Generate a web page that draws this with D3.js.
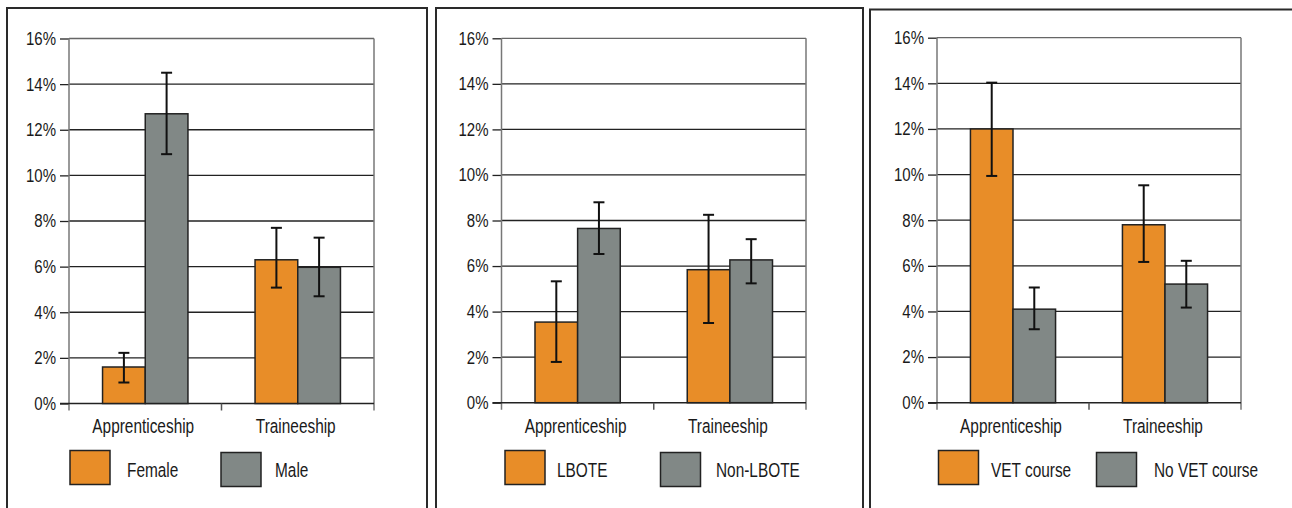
<!DOCTYPE html>
<html>
<head>
<meta charset="utf-8">
<script src="https://cdn.jsdelivr.net/npm/d3@7/dist/d3.min.js"></script>
<style>
  html, body { margin: 0; padding: 0; background: #fff; }
  svg { display: block; }
  text { font-family: "Liberation Sans", Arial, sans-serif; fill: #1a1a1a; }
</style>
</head>
<body>
<svg id="chart" width="1292" height="508"></svg>
<script>
// ---- data ----
const categories = ["Apprenticeship", "Traineeship"];
const yTicks = [0, 2, 4, 6, 8, 10, 12, 14, 16];

const genderSeries = ["Female", "Male"];
const femaleValues = [1.6, 6.3];
const femaleLow    = [0.92, 5.08];
const femaleHigh   = [2.22, 7.7];
const maleValues   = [12.7, 5.97];
const maleLow      = [10.93, 4.7];
const maleHigh     = [14.5, 7.27];

const languageSeries = ["LBOTE", "Non-LBOTE"];
const lboteValues     = [3.54, 5.84];
const lboteLow        = [1.79, 3.5];
const lboteHigh       = [5.33, 8.25];
const nonLboteValues  = [7.65, 6.27];
const nonLboteLow     = [6.53, 5.24];
const nonLboteHigh    = [8.8, 7.18];

const vetSeries = ["VET course", "No VET course"];
const vetValues     = [12.0, 7.8];
const vetLow        = [9.94, 6.17];
const vetHigh       = [14.03, 9.53];
const noVetValues   = [4.1, 5.2];
const noVetLow      = [3.22, 4.17];
const noVetHigh     = [5.05, 6.22];

const seriesColors = ["#E88D28", "#818886"];

// ---- layout ----
const SX_TICK = 0.81;  // horizontal condensing (narrow face look)
const SX_LAB = 0.79;
const panels = [
  { series: genderSeries,
    values: [femaleValues, maleValues], low: [femaleLow, maleLow], high: [femaleHigh, maleHigh],
    frame: { x0: 7, x1: 427, y0: 8 },
    plot: { left: 69, right: 374, top: 38.5, bottom: 403.5 },
    legend: [{ bx: 70, by: 450.5, tx: 127 }, { bx: 221, by: 452.5, tx: 275 }] },
  { series: languageSeries,
    values: [lboteValues, nonLboteValues], low: [lboteLow, nonLboteLow], high: [lboteHigh, nonLboteHigh],
    frame: { x0: 436, x1: 863, y0: 8 },
    plot: { left: 501.5, right: 806, top: 38.3, bottom: 402.7 },
    legend: [{ bx: 505, by: 450.5, tx: 557 }, { bx: 660.5, by: 452.5, tx: 716 }] },
  { series: vetSeries,
    values: [vetValues, noVetValues], low: [vetLow, noVetLow], high: [vetHigh, noVetHigh],
    frame: { x0: 870, x1: 1300, y0: 9.5 },
    plot: { left: 937, right: 1241, top: 37.7, bottom: 402.7 },
    legend: [{ bx: 938.5, by: 450.5, tx: 991 }, { bx: 1096.5, by: 452.5, tx: 1154 }] }
];

const svg = d3.select("#chart");

panels.forEach(p => {
  const g = svg.append("g");
  const P = p.plot;

  // frame (no bottom edge visible)
  g.append("path")
    .attr("d", `M${p.frame.x0},520 V${p.frame.y0} H${p.frame.x1} V520`)
    .attr("fill", "none").attr("stroke", "#2a2a2a").attr("stroke-width", 2);

  const y = d3.scaleLinear().domain([0, 16]).range([P.bottom, P.top]);
  const x0 = d3.scaleBand().domain(categories).range([P.left, P.right]).padding(0);
  const bw = x0.bandwidth();
  const x1 = d3.scaleBand().domain(p.series).range([bw * 0.22, bw * 0.78]).padding(0);

  // y ticks
  const yAxis = d3.axisLeft(y).tickValues(yTicks).tickSize(9).tickPadding(4)
    .tickFormat(d => d + "%");
  const ya = g.append("g").attr("transform", `translate(${P.left},0)`).call(yAxis);
  ya.select(".domain").remove();
  ya.selectAll(".tick line").attr("stroke", "#222").attr("stroke-width", 1.3);
  ya.selectAll(".tick text").attr("font-size", 18.5).attr("fill", "#1a1a1a")
    .attr("x", -13 / SX_TICK).attr("transform", `scale(${SX_TICK},1)`)
    .style("font-family", '"Liberation Sans", Arial, sans-serif');

  // gridlines
  g.append("g").selectAll("line").data(yTicks.filter(t => t > 0)).join("line")
    .attr("x1", P.left).attr("x2", P.right)
    .attr("y1", d => y(d)).attr("y2", d => y(d))
    .attr("stroke", d => d === 16 ? "#666" : "#222").attr("stroke-width", 1.3);

  // plot border verticals
  g.append("line").attr("x1", P.left).attr("x2", P.left).attr("y1", P.top).attr("y2", P.bottom + 7)
    .attr("stroke", "#777").attr("stroke-width", 1.5);
  g.append("line").attr("x1", P.right).attr("x2", P.right).attr("y1", P.top).attr("y2", P.bottom + 7)
    .attr("stroke", "#777").attr("stroke-width", 1.5);

  // x axis
  const xa = g.append("g").attr("transform", `translate(0,${P.bottom})`)
    .call(d3.axisBottom(x0).tickSize(0).tickPadding(0));
  xa.select(".domain").remove();
  xa.selectAll(".tick text").attr("font-size", 19.5).attr("dy", 0).attr("y", 30)
    .attr("x", -2 / SX_LAB).attr("transform", `scale(${SX_LAB},1)`).attr("fill", "#1a1a1a")
    .style("font-family", '"Liberation Sans", Arial, sans-serif');
  g.append("line").attr("x1", P.left - 9).attr("x2", P.right).attr("y1", P.bottom).attr("y2", P.bottom)
    .attr("stroke", "#222").attr("stroke-width", 1.5);
  g.append("g").selectAll("line").data(categories.slice(1)).join("line")
    .attr("x1", d => x0(d)).attr("x2", d => x0(d))
    .attr("y1", P.bottom).attr("y2", P.bottom + 7)
    .attr("stroke", "#555").attr("stroke-width", 1.5);

  // bars
  p.series.forEach((s, si) => {
    g.append("g").selectAll("rect").data(categories).join("rect")
      .attr("x", c => x0(c) + x1(s))
      .attr("width", x1.bandwidth())
      .attr("y", (c, i) => y(p.values[si][i]))
      .attr("height", (c, i) => y(0) - y(p.values[si][i]))
      .attr("fill", seriesColors[si]).attr("stroke", "#222").attr("stroke-width", 1.5);
  });

  // error bars
  p.series.forEach((s, si) => {
    const eb = g.append("g").attr("stroke", "#111").attr("stroke-width", 2).attr("fill", "none");
    categories.forEach((c, i) => {
      const cx = x0(c) + x1(s) + x1.bandwidth() / 2;
      const lo = y(p.low[si][i]), hi = y(p.high[si][i]);
      eb.append("line").attr("x1", cx).attr("x2", cx).attr("y1", hi).attr("y2", lo);
      eb.append("line").attr("x1", cx - 5.5).attr("x2", cx + 5.5).attr("y1", hi).attr("y2", hi);
      eb.append("line").attr("x1", cx - 5.5).attr("x2", cx + 5.5).attr("y1", lo).attr("y2", lo);
    });
  });

  // legend
  p.series.forEach((s, si) => {
    const L = p.legend[si];
    g.append("rect").attr("x", L.bx).attr("y", L.by).attr("width", 40).attr("height", 34)
      .attr("fill", seriesColors[si]).attr("stroke", "#222").attr("stroke-width", 1.5);
    g.append("text").attr("transform", `translate(${L.tx},477) scale(${SX_LAB},1)`)
      .attr("font-size", 19.5).text(s);
  });
});
</script>
</body>
</html>
